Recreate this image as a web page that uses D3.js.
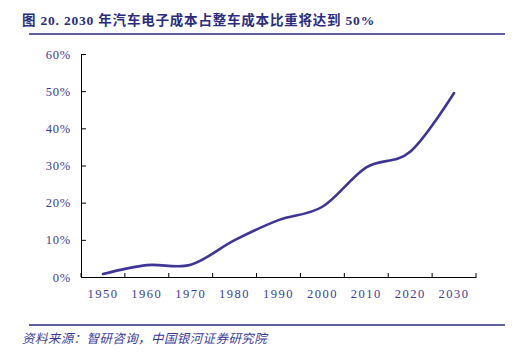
<!DOCTYPE html>
<html><head><meta charset="utf-8">
<script src="https://cdn.jsdelivr.net/npm/d3@7"></script>
<style>body{margin:0;background:#fff;}svg{display:block;}</style>
</head><body>
<svg id="c" width="524" height="357"></svg>
<script>
const titleText = "图 20. 2030 年汽车电子成本占整车成本比重将达到 50%";
const sourceText = "资料来源：智研咨询，中国银河证券研究院";
const years = ["1950","1960","1970","1980","1990","2000","2010","2020","2030"];
const share = [0.8, 3.2, 3.3, 9.9, 15.3, 18.9, 29.5, 33.7, 49.5];
const yTicks = [0,10,20,30,40,50,60];

const svg = d3.select("#c");
const blue = "#2b2b80";
const txt = "#3b3b9b";
const serif = "'Liberation Serif','Noto Sans CJK SC',serif";

svg.append("text").attr("x",22).attr("y",25)
  .attr("font-family",serif).attr("font-weight","bold").attr("font-size",13.5)
  .attr("letter-spacing",0.8)
  .attr("fill",blue).text(titleText);
svg.append("line").attr("x1",29).attr("x2",505).attr("y1",34).attr("y2",34)
  .attr("stroke",blue).attr("stroke-width",1.5);
svg.append("line").attr("x1",29).attr("x2",505).attr("y1",325).attr("y2",325)
  .attr("stroke",blue).attr("stroke-width",1.5);
svg.append("text").attr("x",22).attr("y",343)
  .attr("font-family","'Noto Sans CJK SC',sans-serif").attr("font-style","italic").attr("font-size",12.5)
  .attr("letter-spacing",0.4)
  .attr("fill",txt).text(sourceText);

const x = d3.scaleBand().domain(years).range([81,476]);
const y = d3.scaleLinear().domain([0,60]).range([277,54]);

const gy = svg.append("g").attr("transform","translate(81,0)")
  .call(d3.axisRight(y).tickValues(yTicks).tickFormat(d=>d+"%").tickSize(5).tickSizeOuter(0));
gy.select(".domain").attr("stroke","#000");
gy.selectAll(".tick line").attr("stroke","#000");
gy.selectAll(".tick text").attr("x",-10).attr("text-anchor","end")
  .attr("font-family",serif).attr("font-size",12.5).attr("fill",txt).attr("letter-spacing",0.8);

const gx = svg.append("g").attr("transform","translate(0,277)")
  .call(d3.axisTop(x).tickSize(0));
gx.select(".domain").attr("stroke","#000");
gx.selectAll(".tick line").remove();
gx.selectAll(".tick text").attr("y",17).attr("dy","0.32em")
  .attr("font-family",serif).attr("font-size",12.5).attr("fill",txt).attr("letter-spacing",1.5);
const edges = years.map(d=>x(d)).concat([x.range()[1]]);
svg.append("g").selectAll("line").data(edges).join("line")
  .attr("x1",d=>d).attr("x2",d=>d).attr("y1",277).attr("y2",273)
  .attr("stroke","#000");

const line = d3.line().curve(d3.curveCatmullRom.alpha(0))
  .x((d,i)=>x(years[i])+x.bandwidth()/2).y(d=>y(d));
svg.append("path").datum(share).attr("d",line)
  .attr("fill","none").attr("stroke","#3f3596").attr("stroke-width",2.6).attr("stroke-linecap","round");
</script>
</body></html>
